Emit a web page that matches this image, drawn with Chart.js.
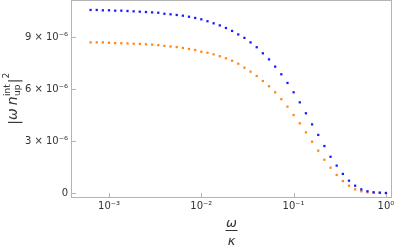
<!DOCTYPE html>
<html>
<head>
<meta charset="utf-8">
<script src="https://cdn.jsdelivr.net/npm/chart.js@4/dist/chart.umd.min.js"></script>
<style>
  html, body { margin: 0; padding: 0; background: #fff; }
  canvas { display: block; }
</style>
</head>
<body>
<canvas id="chart" width="395" height="247"></canvas>
<script>
// ω/κ の値（対数等間隔のサンプル点）
const omegaRatio = [
  0.000631, 0.000736, 0.000858, 0.001, 0.001166, 0.001359, 0.001585, 0.001848, 0.002154, 0.002512,
  0.002929, 0.003415, 0.003981, 0.004642, 0.005412, 0.00631, 0.007356, 0.008577, 0.01, 0.01166,
  0.01359, 0.01585, 0.01848, 0.02154, 0.02512, 0.02929, 0.03415, 0.03981, 0.04642, 0.05412,
  0.0631, 0.07356, 0.08577, 0.1, 0.1166, 0.1359, 0.1585, 0.1848, 0.2154, 0.2512,
  0.2929, 0.3415, 0.3981, 0.4642, 0.5412, 0.631, 0.7356, 0.8577, 1.0
];

// |ω n_up^int|^2（単位 10^-6）
const blueValues = [
  10.56, 10.56, 10.54, 10.54, 10.52, 10.52, 10.50, 10.48, 10.46, 10.44,
  10.42, 10.40, 10.34, 10.31, 10.27, 10.23, 10.17, 10.10, 10.02, 9.91,
  9.79, 9.67, 9.52, 9.35, 9.15, 8.95, 8.69, 8.41, 8.06, 7.71,
  7.29, 6.85, 6.35, 5.81, 5.23, 4.60, 3.96, 3.35, 2.71, 2.09,
  1.58, 1.10, 0.71, 0.42, 0.21, 0.10, 0.04, 0.02, 0.00
];
const orangeValues = [
  8.69, 8.69, 8.69, 8.67, 8.65, 8.64, 8.63, 8.61, 8.60, 8.58,
  8.56, 8.53, 8.49, 8.45, 8.42, 8.37, 8.31, 8.25, 8.15, 8.09,
  8.00, 7.89, 7.77, 7.63, 7.46, 7.23, 7.00, 6.75, 6.46, 6.16,
  5.81, 5.41, 4.98, 4.50, 4.02, 3.50, 2.96, 2.44, 1.92, 1.46,
  1.04, 0.69, 0.42, 0.21, 0.10, 0.04, 0.02, 0.01, 0.00
];

// 目盛り
const xTicks = [0.001, 0.01, 0.1, 1];
const xTickLabels = ['10⁻³', '10⁻²', '10⁻¹', '10⁰'];
const yTicks = [0, 3, 6, 9];
const yTickLabels = ['0', '3 × 10⁻⁶', '6 × 10⁻⁶', '9 × 10⁻⁶'];

const toPoints = vals => vals.map((v, i) => ({ x: omegaRatio[i], y: v }));

const FONT = '"DejaVu Sans", sans-serif';
const TEXT = '#333';
const FRAME = '#b4b4b4';

// 軸ラベルによる余白を消して描画領域を固定する
function fixBox(s, size) {
  if (s.isHorizontal()) s.height = size; else s.width = size;
  s.paddingTop = 0;
  s.paddingBottom = 0;
  s.paddingLeft = 0;
  s.paddingRight = 0;
}

// 枠線と内向きの目盛り線
const framePlugin = {
  id: 'frame',
  beforeDatasetsDraw(chart) {
    const { ctx, chartArea: a, scales } = chart;
    ctx.save();
    ctx.strokeStyle = FRAME;
    ctx.lineWidth = 1;
    ctx.strokeRect(a.left - 0.5, a.top - 0.5, a.right - a.left + 1, a.bottom - a.top + 1);
    ctx.beginPath();
    xTicks.forEach(v => {
      const px = Math.round(scales.x.getPixelForValue(v)) + 0.5;
      ctx.moveTo(px, a.bottom);
      ctx.lineTo(px, a.bottom - 4);
    });
    yTicks.forEach(v => {
      const py = Math.round(scales.y.getPixelForValue(v)) + 0.5;
      ctx.moveTo(a.left, py);
      ctx.lineTo(a.left + 4, py);
    });
    ctx.stroke();
    ctx.restore();
  },
  afterDraw(chart) {
    const { ctx, chartArea: a } = chart;
    ctx.save();
    ctx.fillStyle = TEXT;
    ctx.strokeStyle = TEXT;

    // x軸タイトル ω/κ
    const cx = (a.left + a.right) / 2;
    ctx.textAlign = 'center';
    ctx.textBaseline = 'alphabetic';
    ctx.font = 'italic 13px ' + FONT;
    ctx.fillText('ω', cx, 227);
    ctx.fillText('κ', cx, 245);
    ctx.lineWidth = 1;
    ctx.beginPath();
    ctx.moveTo(cx - 6, 230.5);
    ctx.lineTo(cx + 6, 230.5);
    ctx.stroke();

    // y軸タイトル |ω n_up^int|^2
    const cy = (a.top + a.bottom) / 2;
    ctx.translate(17, cy);
    ctx.rotate(-Math.PI / 2);
    ctx.textAlign = 'left';
    const big = '14px ' + FONT;
    const ital = 'italic 14px ' + FONT;
    const small = '9px ' + FONT;
    const w = (f, t) => { ctx.font = f; return ctx.measureText(t).width; };
    const wBar = w(big, '|');
    const wOm = w(ital, 'ω');
    const wSp = 3;
    const wN = w(ital, 'n');
    const wStack = Math.max(w(small, 'int'), w(small, 'up')) + 1;
    const wTwo = w(small, '2');
    const total = wBar + wOm + wSp + wN + wStack + wBar + wTwo;
    let x = -total / 2;
    ctx.font = big; ctx.fillText('|', x, 2); x += wBar;
    ctx.font = ital; ctx.fillText('ω', x, 0); x += wOm + wSp;
    ctx.fillText('n', x, 0); x += wN + 0.5;
    ctx.font = small;
    ctx.fillText('int', x, -7);
    ctx.fillText('up', x, 3);
    x += wStack;
    ctx.font = big; ctx.fillText('|', x, 2); x += wBar;
    ctx.font = small; ctx.fillText('2', x, -8);
    ctx.restore();
  }
};

new Chart(document.getElementById('chart'), {
  type: 'scatter',
  data: {
    datasets: [
      {
        label: 'blue',
        data: toPoints(blueValues),
        backgroundColor: 'rgb(26, 26, 255)',
        borderWidth: 0,
        pointRadius: 1.6,
        pointStyle: 'rect'
      },
      {
        label: 'orange',
        data: toPoints(orangeValues),
        backgroundColor: 'rgb(255, 135, 20)',
        borderWidth: 0,
        pointRadius: 1.6,
        pointStyle: 'rect'
      }
    ]
  },
  options: {
    responsive: false,
    animation: false,
    devicePixelRatio: 1,
    layout: { autoPadding: false, padding: { top: 1, right: 4, left: 0, bottom: 0 } },
    plugins: {
      legend: { display: false },
      tooltip: { enabled: false }
    },
    scales: {
      x: {
        type: 'logarithmic',
        min: 0.000397,
        max: 1.135,
        grid: { display: false, drawTicks: false },
        border: { display: false },
        afterFit: s => fixBox(s, 50),
        afterBuildTicks: s => { s.ticks = xTicks.map(v => ({ value: v })); },
        ticks: {
          padding: 3,
          color: TEXT,
          font: { family: FONT, size: 10 },
          maxRotation: 0,
          autoSkip: false,
          callback: v => xTickLabels[xTicks.indexOf(v)] ?? ''
        }
      },
      y: {
        min: -0.231,
        max: 11.077,
        grid: { display: false, drawTicks: false },
        border: { display: false },
        afterFit: s => fixBox(s, 72),
        afterBuildTicks: s => { s.ticks = yTicks.map(v => ({ value: v })); },
        ticks: {
          padding: 4,
          color: TEXT,
          font: { family: FONT, size: 10 },
          autoSkip: false,
          callback: v => yTickLabels[yTicks.indexOf(v)] ?? ''
        }
      }
    }
  },
  plugins: [framePlugin]
});
</script>
</body>
</html>
